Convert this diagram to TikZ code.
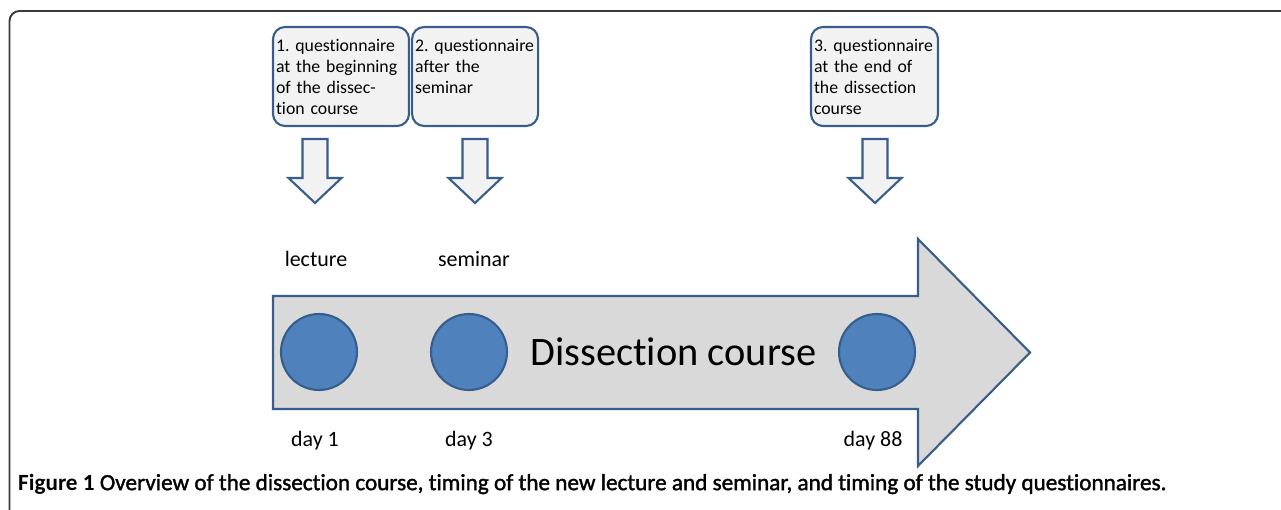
\documentclass[tikz,border=0pt]{standalone}
\usepackage{fontspec}
\setmainfont{Carlito}[Ligatures=NoCommon]
\newfontfamily\capsemi{Carlito}[FakeBold=1.5, Ligatures=NoCommon]
\usetikzlibrary{positioning}
\frenchspacing
\hyphenpenalty=10000

\definecolor{boxline}{HTML}{385D8A}
\definecolor{boxfill}{HTML}{F2F2F2}
\definecolor{dotfill}{HTML}{4F81BD}
\definecolor{coursefill}{HTML}{D9D9D9}
\definecolor{framegray}{HTML}{3A3A3A}

\tikzstyle{quest-block} = [draw=boxline, fill=boxfill, line width=1.2pt, rectangle, rounded corners=0.24cm, align=left, minimum height=1.98cm, inner xsep=0.06cm, font=\fontsize{10.1}{11.95}\selectfont]
\tikzstyle{event-dot} = [draw=boxline, fill=dotfill, circle, line width=1.2pt, minimum size=1.52cm, inner sep=0pt]
\tikzstyle{event-label} = [font=\fontsize{12.5}{15}\selectfont]
\tikzstyle{down-arrow} = [draw=boxline, fill=boxfill, line width=1.2pt]
\tikzstyle{course-arrow} = [draw=boxline, fill=coursefill, line width=1.2pt]

\begin{document}
\begin{tikzpicture}[x=0.02cm, y=-0.02cm]
	\useasboundingbox (0,0) rectangle (1281,510);
	\draw[framegray, line width=1.1pt, rounded corners=0.2cm] (9.5,530) -- (9.5,11) -- (1300,11);
	
	\draw[course-arrow] (273,296) -- (918,296) -- (918,239) -- (1030,352.5) -- (918,466) -- (918,409) -- (273,409) -- cycle;
	\node [font=\fontsize{23}{28}\selectfont] (course) at (673.5,352) {Dissection course};
	
	\node [event-dot] (day1) at (319,352) {};
	\node [event-dot] (day3) at (469,352) {};
	\node [event-dot] (day88) at (877,352) {};
	
	\node [event-label, above of=day1, node distance=1.86cm, xshift=-0.06cm] (lecture) {lecture};
	\node [event-label, above of=day3, node distance=1.86cm, xshift=0.1cm] (seminar) {seminar};
	\node [event-label, below of=day1, node distance=1.78cm, xshift=-0.08cm] (day1-label) {day 1};
	\node [event-label, below of=day3, node distance=1.78cm] (day3-label) {day 3};
	\node [event-label, below of=day88, node distance=1.78cm, xshift=-0.08cm] (day88-label) {day 88};
	
	\node [quest-block, text width=2.6cm] (quest1) at (341,76.5) {1. questionnaire\\at the beginning\\of the dissec-\\tion course};
	\node [quest-block, text width=2.4cm, right=0.02cm of quest1] (quest2) {2. questionnaire\\after the\\seminar\\\mbox{}};
	\node [quest-block, text width=2.42cm] (quest3) at (874.5,76.5) {3. questionnaire\\at the end of\\the dissection\\course};
	
	\foreach \x in {315,475,875}{% 
		\draw[down-arrow] (\x-12.5,139) -- (\x+12.5,139) -- (\x+12.5,178) -- (\x+26.5,178) -- (\x,203) -- (\x-26.5,178) -- (\x-12.5,178) -- cycle;}
	
	\node [anchor=west, font=\fontsize{13.2}{16}\selectfont] (caption) at (12,484) {\textbf{Figure 1} \capsemi Overview of the dissection course, timing of the new lecture and seminar, and timing of the study questionnaires.};
	
\end{tikzpicture}
\end{document}
